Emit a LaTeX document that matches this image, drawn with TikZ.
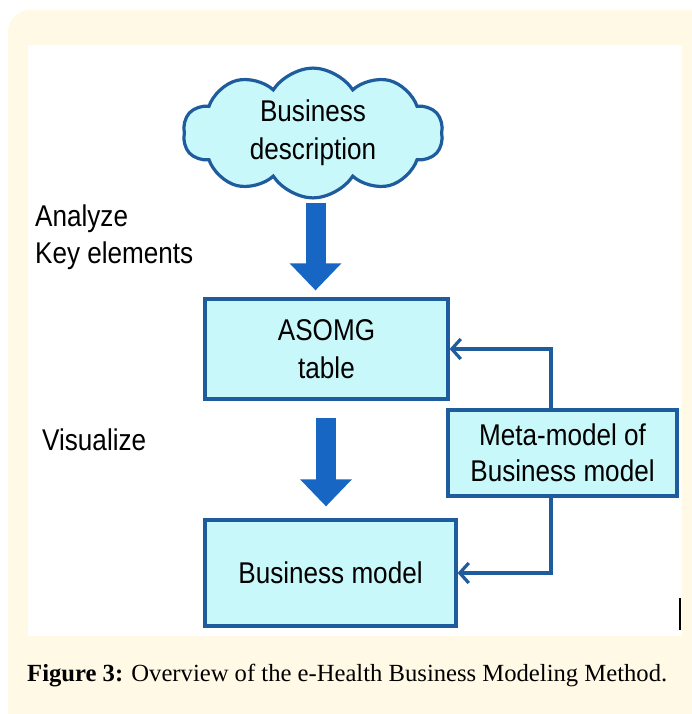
\documentclass[tikz,border=0pt]{standalone}
\usepackage{fontspec}
\setmainfont{Liberation Serif}
\newfontfamily\diagfont[FakeStretch=0.87]{Liberation Sans}
\usetikzlibrary{shapes.symbols,arrows.meta,calc}
\definecolor{cream}{HTML}{FFF9E6}
\definecolor{boxfill}{HTML}{C8F8FA}
\definecolor{boxline}{HTML}{1F5C9E}
\definecolor{blockblue}{HTML}{1766C4}
\tikzset{
  lbl/.style={font=\diagfont\fontsize{30}{37}\selectfont, text=black},
  box/.style={draw=boxline, line width=3.2pt, fill=boxfill, align=center, inner sep=0pt,
              font=\diagfont\fontsize{30}{38}\selectfont},
  conn/.style={draw=boxline, line width=3.2pt, -{Straight Barb[length=9pt,width=20pt]}},
  blockarrow/.style={draw=blockblue, line width=20pt,
      -{Triangle[length=27pt,width=50pt]}, color=blockblue}
}
\begin{document}
\begin{tikzpicture}[x=1pt,y=-1pt]
\useasboundingbox (0,0) rectangle (691,714);
\fill[cream, rounded corners=22pt] (8,10) rectangle (720,740);
\fill[white] (28,45) rectangle (682,636);

\node[box, cloud, cloud puffs=10, cloud puff arc=115, aspect=2.6,
      minimum width=260pt, minimum height=100pt] (cloud) at (313,133)
      {Business\\description};

\node[box, minimum width=243pt, minimum height=100pt] (asomg) at (326.5,349) {ASOMG\\table};
\node[box, minimum width=251pt, minimum height=106pt] (bm) at (330.5,573) {Business model};
\node[box, minimum width=229pt, minimum height=86pt, font=\diagfont\fontsize{30}{36}\selectfont] (meta) at (562.5,453) {Meta-model of\\Business model};

\node[lbl, anchor=north west, align=left, inner sep=0pt] (analyze) at (35,205) {Analyze\\Key elements};
\node[lbl, anchor=north west, inner sep=0pt] (visualize) at (42,429) {Visualize};

\draw[blockarrow] ([xshift=-11pt,yshift=94pt]asomg.north) -- ([xshift=-11pt,yshift=7pt]asomg.north);
\draw[blockarrow] ([xshift=-4.5pt,yshift=100pt]bm.north) -- ([xshift=-4.5pt,yshift=12pt]bm.north);

\draw[conn] ([xshift=-11.5pt]meta.north) |- (asomg.east);
\draw[conn] ([xshift=-11.5pt]meta.south) |- (bm.east);

\draw[black, line width=1.2pt] (680,598) -- (680,630);

\node[anchor=west, inner sep=0pt] (caption) at (27,676)
  {\resizebox{640pt}{!}{\textbf{Figure 3:} Overview of the e-Health Business Modeling Method.}};
\end{tikzpicture}
\end{document}
